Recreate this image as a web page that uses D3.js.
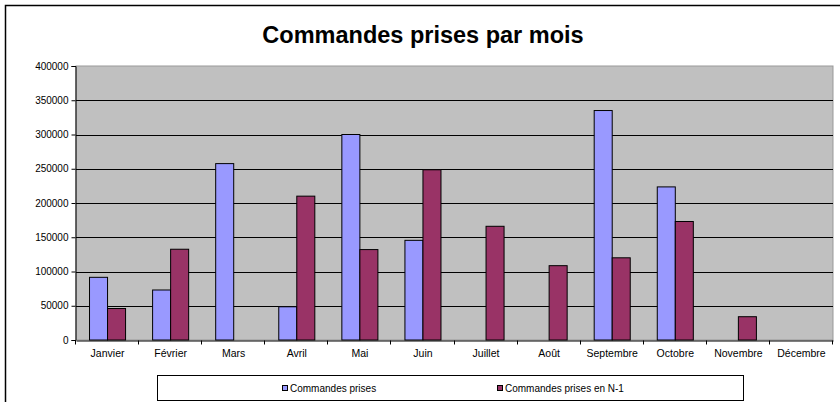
<!DOCTYPE html>
<html>
<head>
<meta charset="utf-8">
<script src="https://cdn.jsdelivr.net/npm/d3@7"></script>
<style>
  body { margin: 0; background: #fff; }
  text { font-family: "Liberation Sans", Arial, sans-serif; }
</style>
</head>
<body>
<script>
const width = 840;
const height = 402;

const months = ["Janvier", "Février", "Mars", "Avril", "Mai", "Juin", "Juillet",
  "Août", "Septembre", "Octobre", "Novembre", "Décembre"];
const commandes = [91500, 73000, 257500, 48500, 300000, 145500, 0, 0, 335000, 223500, 0, 0];
const commandesN1 = [46000, 132500, 0, 210000, 132000, 248500, 166000, 108500, 120000, 173000, 34000, 0];
const yTicks = [0, 50000, 100000, 150000, 200000, 250000, 300000, 350000, 400000];
const seriesNames = ["Commandes prises", "Commandes prises en N-1"];
const colors = ["#9999ff", "#993366"];

const plot = { left: 76, right: 833, top: 66, bottom: 340 };

const svg = d3.select('body')
  .append('svg')
  .attr('width', width)
  .attr('height', height);

// cadre du graphique
svg.append('rect')
  .attr('x', 5.5).attr('y', 5.5)
  .attr('width', 850).attr('height', 420)
  .attr('fill', '#fff')
  .attr('stroke', '#000')
  .attr('stroke-width', 1.5);

svg.append('text')
  .attr('x', 423).attr('y', 43)
  .attr('text-anchor', 'middle')
  .attr('font-size', 23.5)
  .attr('font-weight', 'bold')
  .text('Commandes prises par mois');

const x = d3.scaleBand()
  .domain(months)
  .range([plot.left, plot.right]);

const xs = d3.scaleBand()
  .domain([0, 1])
  .range([0, x.bandwidth()])
  .paddingOuter(0.75)
  .paddingInner(0);

const y = d3.scaleLinear()
  .domain([0, 400000])
  .range([plot.bottom, plot.top]);

svg.append('rect')
  .attr('x', plot.left).attr('y', plot.top)
  .attr('width', plot.right - plot.left)
  .attr('height', plot.bottom - plot.top)
  .attr('fill', '#c0c0c0')
  .attr('stroke', '#999')
  .attr('stroke-width', 1);

// lignes de quadrillage
svg.append('g')
  .selectAll('line')
  .data(yTicks.slice(1, -1))
  .enter()
  .append('line')
  .attr('x1', plot.left).attr('x2', plot.right)
  .attr('y1', d => Math.round(y(d)) + 0.5)
  .attr('y2', d => Math.round(y(d)) + 0.5)
  .attr('stroke', '#000');

const data = months.map((m, i) => ({ month: m, values: [commandes[i], commandesN1[i]] }));

svg.append('g')
  .selectAll('g')
  .data(data)
  .enter()
  .append('g')
  .attr('transform', d => `translate(${x(d.month)},0)`)
  .selectAll('rect')
  .data(d => d.values.map((v, k) => ({ k, v })).filter(e => e.v > 0))
  .enter()
  .append('rect')
  .attr('x', d => xs(d.k))
  .attr('width', xs.bandwidth())
  .attr('y', d => y(d.v))
  .attr('height', d => y(0) - y(d.v))
  .attr('fill', d => colors[d.k])
  .attr('stroke', '#000')
  .attr('stroke-width', 1);

// axe y
const yAxis = d3.axisLeft(y)
  .tickValues(yTicks)
  .tickSize(4)
  .tickFormat(d3.format('d'));

svg.append('g')
  .attr('transform', `translate(${plot.left - 0.5},0)`)
  .call(yAxis)
  .call(g => g.select('.domain').attr('stroke', '#000'))
  .call(g => g.selectAll('text').attr('font-size', 10).attr('font-family', '"Liberation Sans", Arial, sans-serif').attr('x', -7));

// axe x
const xAxis = d3.axisBottom(x)
  .tickSize(0);

const gx = svg.append('g')
  .attr('transform', `translate(0,${plot.bottom + 0.5})`)
  .call(xAxis);
gx.select('.domain').attr('stroke', '#000');
gx.selectAll('text')
  .attr('font-size', 10.5)
  .attr('font-family', '"Liberation Sans", Arial, sans-serif')
  .attr('dy', 0)
  .attr('y', 16);

// graduations entre les mois
gx.selectAll('.sep')
  .data(months.concat(['fin']))
  .enter()
  .append('line')
  .attr('x1', (d, i) => Math.round(i < months.length ? x(d) : plot.right) - 0.5)
  .attr('x2', (d, i) => Math.round(i < months.length ? x(d) : plot.right) - 0.5)
  .attr('y1', 0).attr('y2', 4)
  .attr('stroke', '#000');

// légende
const legend = svg.append('g');
legend.append('rect')
  .attr('x', 157.5).attr('y', 375.5)
  .attr('width', 586).attr('height', 25)
  .attr('fill', '#fff')
  .attr('stroke', '#000');

const legendX = [282, 497];
seriesNames.forEach((name, i) => {
  legend.append('rect')
    .attr('x', legendX[i] + 0.5).attr('y', 385.5)
    .attr('width', 5).attr('height', 5)
    .attr('fill', colors[i])
    .attr('stroke', '#000');
  legend.append('text')
    .attr('x', legendX[i] + 8).attr('y', 392)
    .attr('font-size', 10)
    .text(name);
});
</script>
</body>
</html>
